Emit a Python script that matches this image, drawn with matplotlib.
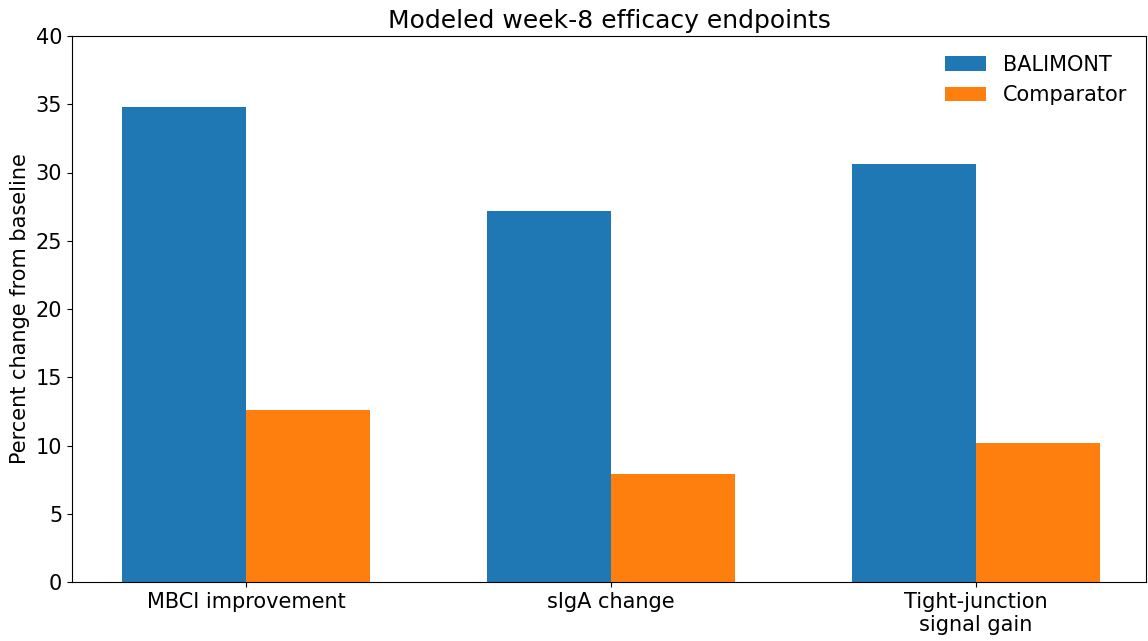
import matplotlib
matplotlib.use("Agg")
import matplotlib.pyplot as plt
import numpy as np

categories = ["MBCI improvement", "sIgA change", "Tight-junction\nsignal gain"]
balimont = [34.8, 27.2, 30.6]
comparator = [12.6, 7.9, 10.2]
series_names = ["BALIMONT", "Comparator"]

fig = plt.figure(figsize=(11.48, 6.41), dpi=100)
ax = fig.add_axes([72/1148, 1-582/641, (1146-72)/1148, (582-36)/641])
x = np.arange(len(categories))
w = 0.34
ax.bar(x - w/2, balimont, w, color="#1f77b4", label=series_names[0])
ax.bar(x + w/2, comparator, w, color="#ff7f0e", label=series_names[1])
ax.set_xticks(x)
ax.set_xticklabels(categories, fontsize=15)
ax.set_ylim(0, 40)
ax.set_xlim(-0.477, 2.466)
ax.tick_params(axis="y", labelsize=15)
ax.set_ylabel("Percent change from baseline", fontsize=15)
ax.set_title("Modeled week-8 efficacy endpoints", fontsize=18)
ax.legend(frameon=False, fontsize=15)
fig.savefig("out.png", dpi=100)
